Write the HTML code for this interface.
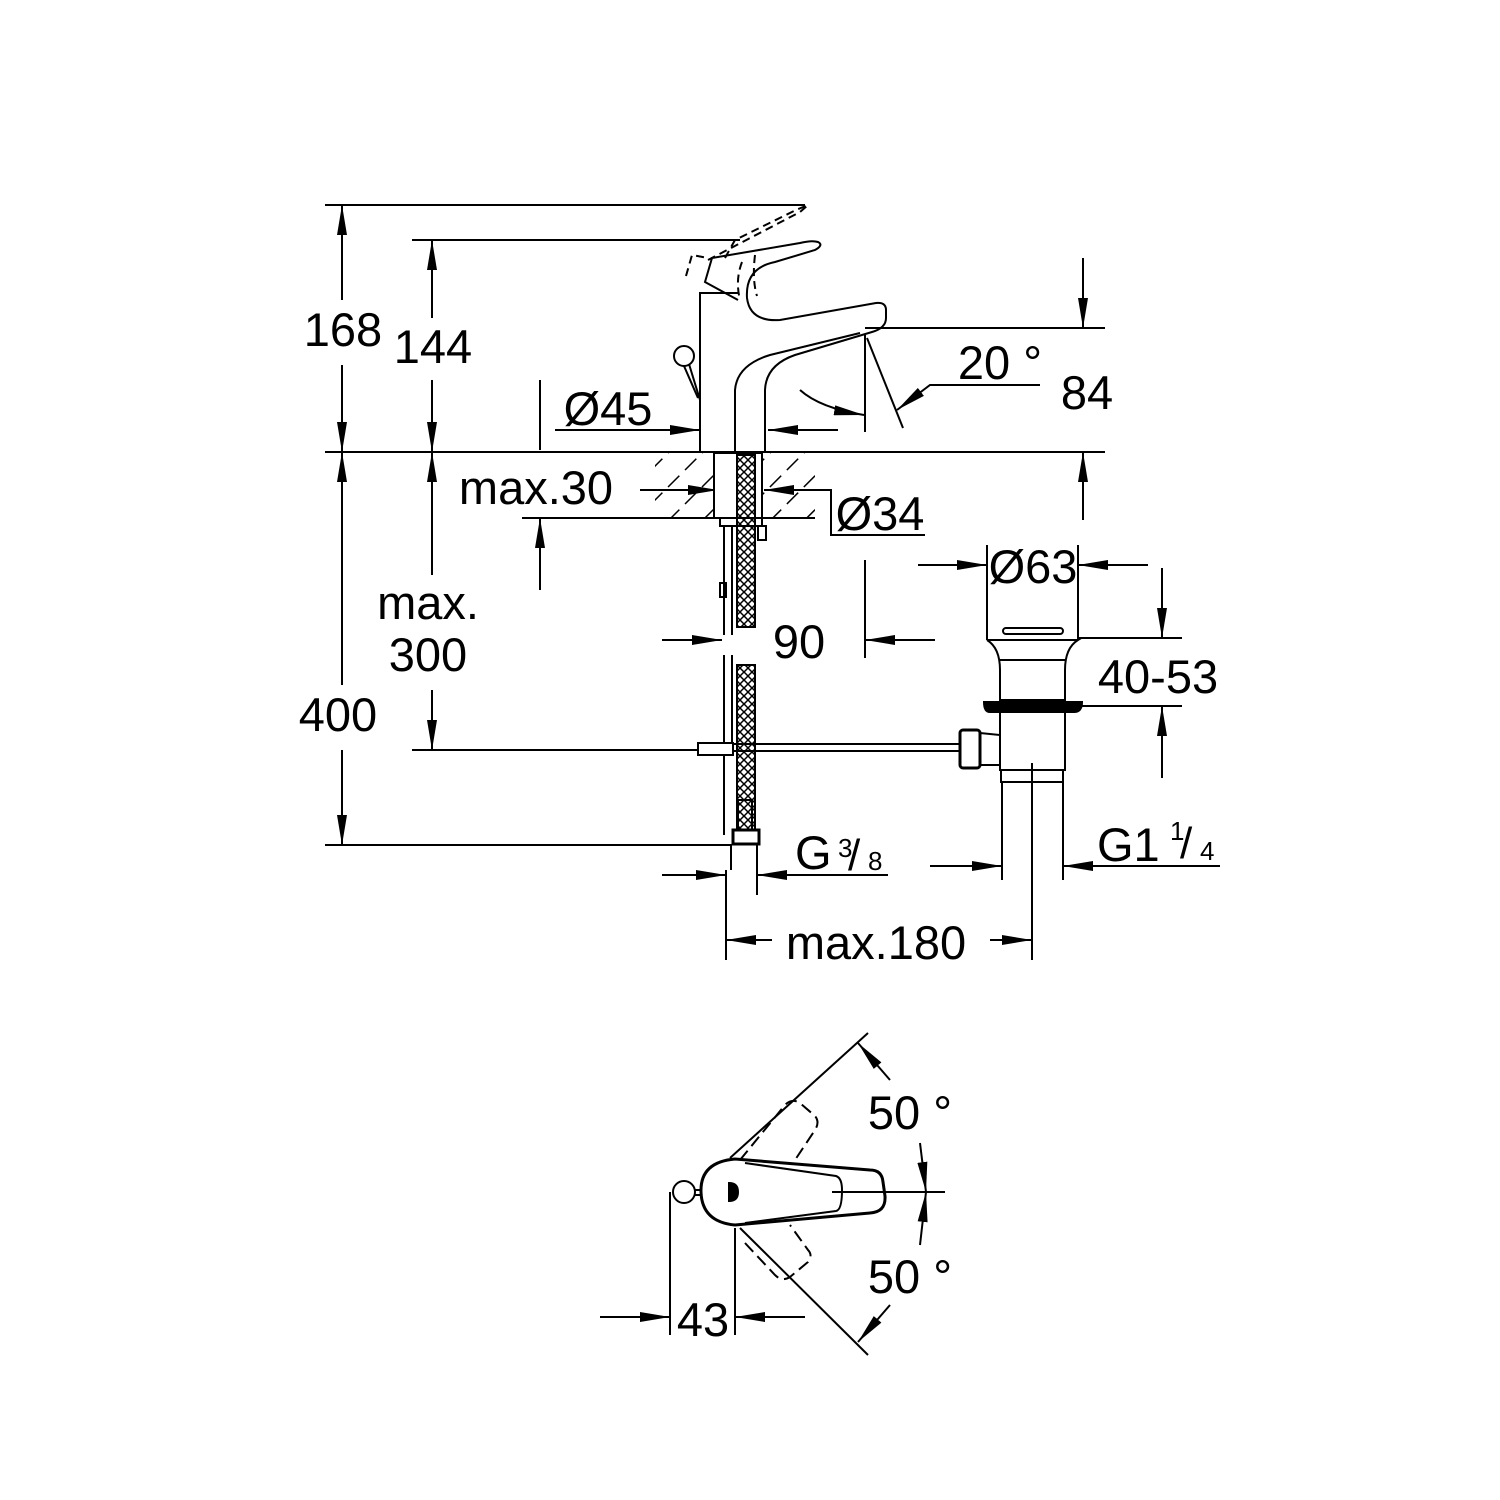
<!DOCTYPE html>
<html><head><meta charset="utf-8"><style>
html,body{margin:0;padding:0;background:#fff}
svg{display:block}
text{font-family:"Liberation Sans",sans-serif;fill:#000}
</style></head><body>
<svg width="1500" height="1500" viewBox="0 0 1500 1500" xmlns="http://www.w3.org/2000/svg">
<defs>
<marker id="a" viewBox="0 0 30 10" refX="30" refY="5" markerWidth="30" markerHeight="10" markerUnits="userSpaceOnUse" orient="auto-start-reverse"><path d="M0,0 L30,5 L0,10 Z" fill="#000"/></marker>
<pattern id="h" width="24" height="24" patternUnits="userSpaceOnUse" patternTransform="rotate(45)"><line x1="0" y1="0" x2="0" y2="24" stroke="#000" stroke-width="3" stroke-dasharray="16 8"/></pattern>
<pattern id="x" width="8" height="8" patternUnits="userSpaceOnUse"><path d="M0,0 L8,8 M8,0 L0,8" stroke="#000" stroke-width="1.5"/></pattern>
</defs>
<g stroke="#000" stroke-width="2" fill="none">
<line x1="325" y1="205" x2="805" y2="205"/>
<line x1="412" y1="240" x2="740" y2="240"/>
<line x1="325" y1="452" x2="1105" y2="452"/>
<line x1="325" y1="845" x2="732" y2="845"/>
<line x1="412" y1="750" x2="700" y2="750"/>
<line x1="342" y1="300" x2="342" y2="205" marker-end="url(#a)"/>
<line x1="342" y1="365" x2="342" y2="452" marker-end="url(#a)"/>
<line x1="432" y1="318" x2="432" y2="240" marker-end="url(#a)"/>
<line x1="432" y1="380" x2="432" y2="452" marker-end="url(#a)"/>
<line x1="342" y1="685" x2="342" y2="452" marker-end="url(#a)"/>
<line x1="342" y1="750" x2="342" y2="845" marker-end="url(#a)"/>
<line x1="432" y1="575" x2="432" y2="452" marker-end="url(#a)"/>
<line x1="432" y1="690" x2="432" y2="750" marker-end="url(#a)"/>
<line x1="540" y1="380" x2="540" y2="450"/>
<line x1="555" y1="430" x2="700" y2="430" marker-end="url(#a)"/>
<line x1="838" y1="430" x2="768" y2="430" marker-end="url(#a)"/>
<line x1="522" y1="518" x2="655" y2="518"/>
<line x1="540" y1="590" x2="540" y2="518" marker-end="url(#a)"/>
<line x1="640" y1="490" x2="718" y2="490" marker-end="url(#a)"/>
<line x1="830" y1="490" x2="764" y2="490" marker-end="url(#a)"/>
<polyline points="798,490 831,490 831,535 925,535"/>
<rect x="655" y="453" width="160" height="65" fill="url(#h)" stroke="none"/>
<line x1="655" y1="518" x2="815" y2="518"/>
<rect x="714" y="453" width="48" height="65" fill="#fff" stroke="#000"/>
<!-- faucet body -->
<path d="M700,452 L700,293 L738,293"/>
<path d="M765,452 L765,390 Q766,365 795,355 L872,332 Q886,328 886,318 L886,310 Q886,302 876,303 L780,320 Q750,322 747,298 Q745,268 775,262 L815,250 Q824,245 818,242 Q812,240 800,243 L712,258 L705,282 L738,300"/>
<path d="M735,452 L735,390 Q737,365 770,355 L860,333"/>
<path d="M686,276 L692,255 L708,258" stroke-dasharray="8 5"/>
<path d="M708,260 L800,212 L808,205 L796,210 L735,240 L725,258" stroke-dasharray="8 5"/>
<path d="M742,262 Q735,280 740,300 M755,255 Q752,280 757,296" stroke-dasharray="8 5"/>
<circle cx="684" cy="356" r="10" fill="#fff"/>
<line x1="689" y1="364" x2="700" y2="400"/>
<line x1="684" y1="366" x2="698" y2="398"/>
<rect x="720" y="518" width="42" height="8" fill="#fff"/>
<rect x="758" y="526" width="8" height="14"/>
<line x1="724" y1="526" x2="724" y2="635"/><line x1="732" y1="526" x2="732" y2="635"/>
<line x1="724" y1="655" x2="724" y2="835"/><line x1="732" y1="655" x2="732" y2="745"/>
<rect x="720" y="583" width="6" height="14"/>
<rect x="737" y="455" width="18" height="172" fill="url(#x)"/>
<rect x="737" y="665" width="18" height="165" fill="url(#x)"/>
<rect x="738" y="800" width="14" height="35"/>
<rect x="733" y="830" width="26" height="14" fill="#fff" stroke-width="3"/>
<line x1="731" y1="844" x2="731" y2="870"/><line x1="757" y1="844" x2="757" y2="895"/>
<line x1="726" y1="870" x2="726" y2="960"/>
<rect x="698" y="743" width="35" height="12" fill="#fff"/>
<line x1="733" y1="744" x2="960" y2="744"/>
<line x1="733" y1="751" x2="960" y2="751"/>
<rect x="960" y="730" width="20" height="38" rx="3" fill="#fff" stroke-width="3"/>
<path d="M980,733 L1000,735 L1000,765 L980,765"/>
<rect x="1003" y="628" width="60" height="6" rx="3"/>
<path d="M987,640 L1078,640 Q1065,648 1065,670 L1065,700 L1000,700 L1000,670 Q1000,648 987,640"/>
<line x1="1000" y1="660" x2="1065" y2="660"/>
<path d="M984,702 L1082,702 Q1082,712 1074,712 L990,712 Q984,712 984,702Z" fill="#000"/>
<path d="M1000,712 L1065,712 L1065,770 L1000,770 Z"/>
<rect x="1001" y="770" width="62" height="12"/>
<line x1="1002" y1="782" x2="1002" y2="880"/><line x1="1063" y1="782" x2="1063" y2="880"/>
<line x1="1032" y1="763" x2="1032" y2="960"/>
<line x1="865" y1="328" x2="1105" y2="328"/>
<line x1="1083" y1="258" x2="1083" y2="328" marker-end="url(#a)"/>
<line x1="1083" y1="520" x2="1083" y2="452" marker-end="url(#a)"/>
<line x1="865" y1="335" x2="865" y2="432"/>
<line x1="867" y1="338" x2="903" y2="428"/>
<path d="M800,390 Q820,408 864,415" marker-end="url(#a)"/>
<polyline points="1040,385 930,385 897,410" marker-end="url(#a)"/>
<line x1="662" y1="640" x2="722" y2="640" marker-end="url(#a)"/>
<line x1="865" y1="560" x2="865" y2="658"/>
<line x1="935" y1="640" x2="865" y2="640" marker-end="url(#a)"/>
<line x1="987" y1="545" x2="987" y2="640"/><line x1="1078" y1="545" x2="1078" y2="640"/>
<line x1="918" y1="565" x2="987" y2="565" marker-end="url(#a)"/>
<line x1="1148" y1="565" x2="1078" y2="565" marker-end="url(#a)"/>
<line x1="1078" y1="638" x2="1182" y2="638"/>
<line x1="1080" y1="706" x2="1182" y2="706"/>
<line x1="1162" y1="568" x2="1162" y2="638" marker-end="url(#a)"/>
<line x1="1162" y1="778" x2="1162" y2="706" marker-end="url(#a)"/>
<line x1="930" y1="866" x2="1002" y2="866" marker-end="url(#a)"/>
<polyline points="1220,866 1140,866 1063,866" marker-end="url(#a)"/>
<line x1="662" y1="875" x2="726" y2="875" marker-end="url(#a)"/>
<polyline points="888,875 800,875 757,875" marker-end="url(#a)"/>
<line x1="772" y1="940" x2="726" y2="940" marker-end="url(#a)"/>
<line x1="990" y1="940" x2="1032" y2="940" marker-end="url(#a)"/>
<circle cx="684" cy="1192" r="11"/>
<line x1="694" y1="1190" x2="700" y2="1190"/><line x1="694" y1="1195" x2="700" y2="1195"/>
<path d="M735,1159 Q700,1162 701,1192 Q702,1222 735,1225 L870,1213 Q886,1212 885,1196 L883,1182 Q882,1170 870,1170 Z" stroke-width="3"/>
<path d="M745,1163 L836,1176 Q842,1178 842,1190 Q842,1210 836,1211 L745,1223"/>
<path d="M729,1183 Q738,1183 738,1192 Q738,1201 729,1201 Z" fill="#000"/>
<line x1="832" y1="1192" x2="945" y2="1192"/>
<line x1="730" y1="1158" x2="868" y2="1033"/>
<line x1="740" y1="1228" x2="868" y2="1355"/>
<path d="M740,1160 L785,1105 Q792,1098 800,1103 L815,1116 Q820,1122 815,1130 L795,1160" stroke-dasharray="12 6"/>
<path d="M745,1243 L775,1275 Q782,1282 790,1277 L808,1262 Q813,1255 808,1250 L790,1225" stroke-dasharray="12 6"/>
<line x1="670" y1="1192" x2="670" y2="1335"/>
<line x1="735" y1="1228" x2="735" y2="1335"/>
<line x1="600" y1="1317" x2="670" y2="1317" marker-end="url(#a)"/>
<line x1="805" y1="1317" x2="735" y2="1317" marker-end="url(#a)"/>
<path d="M890,1080 L858,1043" marker-end="url(#a)"/>
<path d="M920,1143 L926,1192" marker-end="url(#a)"/>
<path d="M920,1245 L926,1192" marker-end="url(#a)"/>
<path d="M890,1305 L858,1342" marker-end="url(#a)"/>
</g>
<g font-size="47">
<text x="343" y="346" text-anchor="middle">168</text>
<text x="433" y="363" text-anchor="middle">144</text>
<text x="338" y="731" text-anchor="middle">400</text>
<text x="428" y="619" text-anchor="middle">max.</text>
<text x="428" y="671" text-anchor="middle">300</text>
<text x="608" y="425" text-anchor="middle">Ø45</text>
<text x="536" y="504" text-anchor="middle">max.30</text>
<text x="880" y="530" text-anchor="middle">Ø34</text>
<text x="1000" y="379" text-anchor="middle">20 °</text>
<text x="1087" y="409" text-anchor="middle">84</text>
<text x="799" y="658" text-anchor="middle">90</text>
<text x="1033" y="583" text-anchor="middle">Ø63</text>
<text x="1158" y="693" text-anchor="middle">40-53</text>
<text x="795" y="869">G</text>
<text x="1097" y="861">G1</text>
<text x="876" y="959" text-anchor="middle">max.180</text>
<text x="910" y="1129" text-anchor="middle">50 °</text>
<text x="910" y="1293" text-anchor="middle">50 °</text>
<text x="703" y="1336" text-anchor="middle">43</text>
</g>
<g font-size="26">
<text x="838" y="857">3</text><text x="848" y="870" font-size="44">/</text><text x="868" y="870">8</text>
<text x="1170" y="840">1</text><text x="1180" y="858" font-size="44">/</text><text x="1200" y="860">4</text>
</g>
</svg>
</body></html>
